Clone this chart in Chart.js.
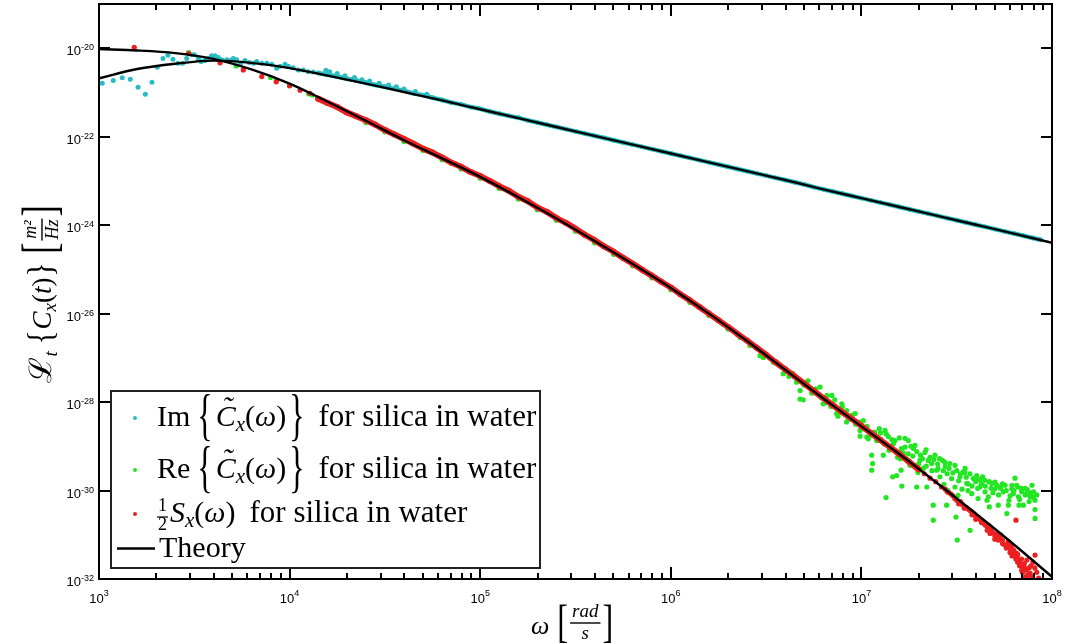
<!DOCTYPE html>
<html>
<head>
<meta charset="utf-8">
<script src="https://cdn.jsdelivr.net/npm/chart.js@4/dist/chart.umd.min.js"></script>
<style>
  html, body { margin: 0; padding: 0; background: #fff; }
  canvas { display: block; }
</style>
</head>
<body>
<canvas id="c" width="1068" height="644"></canvas>
<script>
// ---- axis ranges and tick decades ----
const omegaRange = [1e3, 1e8];
const psdRange = [1e-32, 1e-19];
const xTickExponents = [3, 4, 5, 6, 7, 8];
const yTickExponents = [-20, -22, -24, -26, -28, -30, -32];

// ---- theory curves: log10(omega) and log10(value) ----
const theoryLogW  = [3.0, 3.2, 3.4, 3.6, 3.8, 4.0, 4.2, 4.4, 4.6, 4.8, 5.0, 5.2, 5.4, 5.6, 5.8, 6.0, 6.2, 6.4, 6.6, 6.8, 7.0, 7.2, 7.4, 7.6, 7.8, 8.0];
const theoryReLog = [-20.02, -20.05, -20.11, -20.24, -20.48, -20.80, -21.21, -21.64, -22.08, -22.49, -22.91, -23.37, -23.85, -24.36, -24.88, -25.42, -26.00, -26.62, -27.27, -27.92, -28.55, -29.18, -29.84, -30.52, -31.22, -31.95];
const theoryImLog = [-20.68, -20.47, -20.35, -20.28, -20.33, -20.45, -20.62, -20.80, -20.99, -21.18, -21.38, -21.58, -21.78, -21.98, -22.18, -22.38, -22.58, -22.78, -22.98, -23.19, -23.39, -23.59, -23.79, -23.99, -24.19, -24.40];

// ---- Im{C~x(w)} measurements, [log10 w, log10 value] ----
const imDots = [
  [3.017,-20.79],[3.075,-20.73],[3.122,-20.67],[3.164,-20.70],[3.205,-20.88],[3.243,-21.04],[3.278,-20.77],[3.306,-20.43],
  [3.336,-20.23],[3.362,-20.16],[3.388,-20.25],[3.414,-20.34],[3.439,-20.34],[3.460,-20.23],[3.486,-20.15],[3.500,-20.15],
  [3.521,-20.23],[3.535,-20.30],[3.556,-20.28],[3.573,-20.23],[3.591,-20.17],[3.609,-20.17],[3.626,-20.21],[3.644,-20.26],
  [3.670,-20.26],[3.687,-20.28],[3.705,-20.23],[3.722,-20.26],[3.743,-20.34],[3.766,-20.28],[3.789,-20.32],[3.810,-20.34],
  [3.827,-20.30],[3.854,-20.34],[3.880,-20.34],[3.906,-20.36],[3.932,-20.45],[3.950,-20.41],[3.976,-20.36],[3.993,-20.41],
  [4.019,-20.44],[4.046,-20.49],[4.072,-20.49],[4.098,-20.53],[4.124,-20.54],[4.19,-20.50],[4.21,-20.53],[4.25,-20.57],
  [4.29,-20.62],[4.34,-20.66],[4.38,-20.71],[4.42,-20.74],[4.47,-20.79],[4.52,-20.83],[4.56,-20.87],[4.60,-20.92],
  [4.66,-20.98],[4.72,-21.04]
];
const imBand = [
  [4.15,-20.56],[4.20,-20.60],[4.25,-20.64],[4.30,-20.69],[4.35,-20.73],[4.40,-20.78],[4.45,-20.83],[4.50,-20.87],
  [4.55,-20.92],[4.60,-20.96],[4.65,-21.02],[4.70,-21.06],[4.75,-21.12],[4.80,-21.17],[4.85,-21.23],[4.90,-21.27],
  [4.95,-21.33],[5.00,-21.37],[5.05,-21.43],[5.10,-21.48],[5.15,-21.53],[5.20,-21.57],[5.25,-21.63],[5.30,-21.68],
  [5.35,-21.73],[5.40,-21.78],[5.45,-21.83],[5.50,-21.88],[5.55,-21.93],[5.60,-21.98],[5.65,-22.03],[5.70,-22.08],
  [5.75,-22.13],[5.80,-22.18],[5.85,-22.23],[5.90,-22.28],[5.95,-22.33],[6.00,-22.38],[6.05,-22.43],[6.10,-22.48],
  [6.15,-22.53],[6.20,-22.58],[6.25,-22.63],[6.30,-22.68],[6.35,-22.73],[6.40,-22.78],[6.45,-22.83],[6.50,-22.88],
  [6.55,-22.93],[6.60,-22.98],[6.65,-23.03],[6.70,-23.08],[6.75,-23.14],[6.80,-23.19],[6.85,-23.24],[6.90,-23.29],
  [6.95,-23.34],[7.00,-23.39],[7.05,-23.44],[7.10,-23.49],[7.15,-23.54],[7.20,-23.59],[7.25,-23.64],[7.30,-23.69],
  [7.35,-23.74],[7.40,-23.79],[7.45,-23.84],[7.50,-23.89],[7.55,-23.94],[7.60,-23.99],[7.65,-24.04],[7.70,-24.09],
  [7.75,-24.14],[7.80,-24.19],[7.85,-24.24],[7.90,-24.29],[7.94,-24.33]
];

// ---- Re{C~x(w)} measurements ----
const reDots = [
  [3.47,-20.10],[3.72,-20.40],[3.93,-20.73],[4.12,-21.06],
  [3.9,-20.66],[4.0,-20.84],[4.1,-21.03],[4.2,-21.25],[4.3,-21.46],[4.4,-21.68],[4.5,-21.89],[4.6,-22.11],[4.7,-22.31],
  [4.8,-22.52],[4.9,-22.73],[5.0,-22.94],[5.1,-23.17],[5.2,-23.41],[5.3,-23.65],[5.4,-23.89],[5.5,-24.14],[5.6,-24.40],
  [5.7,-24.66],[5.8,-24.92],[5.9,-25.19],[6.0,-25.46],[6.1,-25.75],[6.2,-26.04],[6.275,-26.24],[6.3,-26.35],[6.363,-26.54],
  [6.415,-26.72],[6.468,-26.95],[6.485,-26.99],[6.538,-27.10],[6.590,-27.36],[6.678,-27.74],[6.678,-27.93],
  [6.60,-27.30],[6.62,-27.42],[6.64,-27.35],[6.66,-27.55],[6.70,-27.62],[6.72,-27.52],[6.74,-27.80],[6.76,-27.70],
  [6.79,-27.90],[6.82,-27.85],[6.84,-28.10],[6.86,-27.95],[6.88,-28.20],[6.90,-28.10],[6.93,-28.35],[6.95,-28.30],
  [6.97,-28.50],[6.99,-28.45],[7.01,-28.60],[7.03,-28.55],[7.05,-28.75],[7.07,-28.68],
  [6.695,-27.95],[6.741,-27.78],[6.783,-27.66],[6.800,-28.04],[6.814,-28.01],[6.845,-27.85],[6.870,-28.26],[6.877,-28.32],
  [6.897,-28.04],[6.922,-28.45],[6.923,-28.19],[6.940,-28.38],[6.967,-28.26],[6.984,-28.49],[6.993,-28.64],[6.993,-28.77],
  [7.010,-28.42],[7.028,-28.79],[7.036,-28.83],[7.054,-29.20],[7.059,-29.39],[7.054,-29.54],[7.080,-28.87],[7.094,-28.60],
  [7.115,-29.20],[7.124,-28.64],[7.129,-30.16],[7.141,-28.78],[7.145,-29.09],[7.164,-29.69],[7.168,-28.94],[7.176,-28.87],
  [7.185,-29.66],[7.199,-28.81],[7.203,-29.28],[7.208,-29.54],[7.212,-29.90],[7.229,-29.02],[7.229,-28.82],[7.246,-28.87],
  [7.246,-29.17],[7.255,-29.43],[7.273,-29.05],[7.281,-28.98],[7.290,-29.92],[7.297,-29.59],[7.307,-29.32],[7.325,-29.50],
  [7.333,-29.14],[7.339,-29.08],[7.343,-29.92],[7.351,-29.32],[7.369,-29.39],[7.377,-30.33],[7.377,-30.67],[7.386,-29.20],
  [7.395,-29.54],[7.402,-29.50],[7.412,-29.69],[7.426,-29.32],[7.433,-29.86],[7.438,-29.36],[7.447,-30.33],[7.454,-30.00],
  [7.464,-29.39],[7.473,-29.73],[7.491,-29.92],[7.491,-29.43],[7.496,-30.60],[7.503,-31.12],[7.507,-30.11],[7.517,-29.69],
  [7.528,-29.97],[7.535,-29.58],[7.543,-29.59],[7.544,-29.50],[7.553,-29.84],[7.559,-30.00],[7.570,-30.90],[7.579,-30.07],
  [7.587,-29.73],[7.596,-29.72],[7.605,-29.66],[7.612,-30.18],[7.622,-29.92],[7.636,-29.69],[7.648,-29.77],[7.649,-30.03],
  [7.659,-30.22],[7.666,-30.14],[7.671,-30.37],[7.684,-29.84],[7.701,-29.96],[7.701,-29.81],[7.718,-30.33],[7.727,-29.92],
  [7.745,-30.03],[7.754,-29.88],[7.763,-30.52],[7.771,-30.33],[7.774,-30.22],[7.789,-29.96],[7.797,-30.07],[7.806,-29.72],
  [7.815,-29.88],[7.824,-30.14],[7.827,-30.33],[7.841,-30.03],[7.850,-30.33],[7.859,-29.95],[7.868,-30.07],[7.885,-30.14],
  [7.895,-29.88],[7.903,-30.03],[7.911,-30.22],[7.911,-30.63],[7.911,-30.43],
  [7.10,-28.70],[7.12,-28.95],[7.13,-28.72],[7.15,-29.00],[7.16,-28.85],[7.18,-29.10],[7.19,-29.25],[7.21,-29.05],
  [7.22,-29.15],[7.24,-29.30],[7.26,-29.00],[7.27,-29.22],[7.29,-29.12],[7.30,-29.40],[7.31,-29.20],[7.32,-29.28],
  [7.34,-29.45],[7.36,-29.25],[7.37,-29.55],[7.38,-29.30],[7.40,-29.40],[7.41,-29.28],[7.43,-29.55],[7.44,-29.45],
  [7.45,-29.62],[7.46,-29.50],[7.48,-29.60],[7.50,-29.55],[7.51,-29.78],[7.52,-29.62],[7.55,-29.70],[7.56,-29.85],
  [7.57,-29.62],[7.58,-29.90],[7.60,-29.80],[7.61,-29.95],[7.62,-29.75],[7.63,-29.85],[7.65,-29.90],[7.67,-29.80],
  [7.68,-29.95],[7.69,-30.05],[7.71,-29.88],[7.72,-30.10],[7.73,-29.95],[7.74,-29.85],[7.76,-30.00],[7.78,-30.12],
  [7.79,-29.88],[7.80,-30.00],[7.82,-29.92],[7.83,-30.20],[7.84,-29.95],[7.86,-30.10],[7.87,-29.98],[7.88,-30.25],
  [7.89,-30.05],[7.90,-30.15],[7.92,-30.10]
];

// ---- (1/2) Sx(w) measurements ----
const psdDots = [
  [3.185,-19.98],[3.47,-20.12],[3.635,-20.33],[3.757,-20.49],[3.854,-20.64],[3.93,-20.76],[4.00,-20.85],[4.055,-20.95],
  [4.107,-21.02],
  [7.33,-29.62],[7.36,-29.72],[7.39,-29.80],[7.42,-29.92],[7.44,-29.97],[7.46,-30.05],[7.47,-30.08],[7.48,-30.12],
  [7.50,-30.22],[7.52,-30.25],[7.53,-30.32],[7.55,-30.38],[7.57,-30.45],[7.58,-30.48],[7.59,-30.52],[7.60,-30.58],
  [7.61,-30.60],[7.62,-30.65],[7.64,-30.74],[7.65,-30.78],[7.66,-30.82],[7.675,-30.97],[7.68,-30.88],[7.69,-30.95],
  [7.70,-31.02],[7.71,-30.98],[7.718,-31.12],[7.727,-31.05],[7.73,-31.00],[7.74,-31.20],[7.75,-31.22],[7.763,-31.27],
  [7.77,-31.15],[7.78,-31.31],[7.789,-31.38],[7.79,-31.25],[7.80,-31.45],[7.80,-31.35],[7.811,-30.67],[7.815,-31.42],
  [7.815,-31.50],[7.82,-31.62],[7.83,-31.58],[7.832,-31.65],[7.84,-31.55],[7.841,-31.80],[7.85,-31.72],[7.859,-31.76],
  [7.86,-31.95],[7.868,-31.57],[7.87,-32.05],[7.876,-31.91],[7.885,-31.87],[7.885,-32.02],[7.89,-31.70],[7.90,-31.62],
  [7.911,-31.46],[7.92,-31.85],[7.93,-31.98],
  [7.45,-30.03],[7.49,-30.18],[7.51,-30.30],[7.54,-30.40],[7.56,-30.42],[7.58,-30.55],[7.60,-30.65],[7.63,-30.72],
  [7.66,-30.90],[7.67,-30.80],[7.70,-31.10],[7.72,-31.05],[7.74,-31.12],[7.76,-31.30],[7.77,-31.22],[7.78,-31.40],
  [7.79,-31.48],[7.81,-31.55],[7.82,-31.45],[7.83,-31.70],[7.845,-31.85],[7.855,-31.65],[7.865,-31.80],[7.87,-31.92],
  [7.88,-31.75],[7.895,-31.95],[7.90,-32.10],[7.91,-31.75]
];
const psdBand = [
  [4.15,-21.14],[4.20,-21.24],[4.25,-21.33],[4.30,-21.45],[4.35,-21.54],[4.40,-21.63],[4.45,-21.73],[4.50,-21.85],
  [4.55,-21.95],[4.60,-22.05],[4.65,-22.16],[4.70,-22.27],[4.75,-22.36],[4.80,-22.47],[4.85,-22.59],[4.90,-22.68],
  [4.95,-22.80],[5.00,-22.89],[5.05,-23.00],[5.10,-23.12],[5.15,-23.22],[5.20,-23.36],[5.25,-23.46],[5.30,-23.60],
  [5.35,-23.70],[5.40,-23.84],[5.45,-23.95],[5.50,-24.08],[5.55,-24.22],[5.60,-24.34],[5.65,-24.48],[5.70,-24.60],
  [5.75,-24.74],[5.80,-24.87],[5.85,-25.01],[5.90,-25.14],[5.95,-25.28],[6.00,-25.41],[6.05,-25.56],[6.10,-25.70],
  [6.15,-25.85],[6.20,-26.00],[6.25,-26.15],[6.30,-26.30],[6.35,-26.46],[6.40,-26.61],[6.45,-26.77],[6.50,-26.93],
  [6.55,-27.10],[6.60,-27.26],[6.65,-27.42],[6.70,-27.58],[6.75,-27.75],[6.80,-27.91],[6.85,-28.07],[6.90,-28.23],
  [6.95,-28.38],[7.00,-28.54],[7.05,-28.70],[7.10,-28.86],[7.15,-29.02],[7.20,-29.18],[7.25,-29.35],[7.30,-29.52]
];

// ---- colours ----
const cyan = 'rgb(40,188,194)';
const green = 'rgb(34,230,34)';
const red = 'rgb(236,32,32)';

const fromLog = pairs => pairs.map(([w, c]) => ({ x: 10 ** w, y: 10 ** c }));
const theoryRe = theoryLogW.map((w, i) => ({ x: 10 ** w, y: 10 ** theoryReLog[i] }));
const theoryIm = theoryLogW.map((w, i) => ({ x: 10 ** w, y: 10 ** theoryImLog[i] }));

const dotStyle = (color, order, r = 2.5) => ({
  showLine: false, pointRadius: r, pointBorderWidth: 0,
  pointBackgroundColor: color, backgroundColor: color, borderColor: color, order
});
const bandStyle = (color, width, order, r) => ({
  showLine: true, borderColor: color, borderWidth: width, borderCapStyle: 'round', borderJoinStyle: 'round',
  pointRadius: r, pointBorderWidth: 0, pointBackgroundColor: color, backgroundColor: color, order
});
const theoryStyle = {
  showLine: true, borderColor: '#000', borderWidth: 2.4, pointRadius: 0,
  cubicInterpolationMode: 'monotone', order: 0
};

const serif = '"Liberation Serif", "Times New Roman", serif';
const sans = '"Liberation Sans", Arial, Helvetica, sans-serif';
const font = (style, size, fam = serif) => `${style} ${size}px ${fam}`;

// draws a run of text pieces left to right, returns the end x
function drawRuns(ctx, runs, x0, y0) {
  let x = x0;
  for (const r of runs) {
    if (r.gap !== undefined) { x += r.gap; continue; }
    if (r.frac) {
      ctx.save();
      ctx.font = r.font;
      const wn = ctx.measureText(r.frac[0]).width, wd = ctx.measureText(r.frac[1]).width;
      const w = Math.max(wn, wd) + 2 * (r.pad || 1);
      ctx.textAlign = 'center';
      ctx.fillText(r.frac[0], x + w / 2, y0 + r.numDy);
      ctx.fillText(r.frac[1], x + w / 2, y0 + r.denDy);
      ctx.fillRect(x, y0 + r.barDy - (r.bar || 1.2) / 2, w, r.bar || 1.2);
      ctx.restore();
      x += w;
      continue;
    }
    ctx.save();
    ctx.font = r.font;
    const sx = r.sx || 1, sy = r.sy || 1;
    const w = ctx.measureText(r.t).width * sx;
    ctx.translate(x, y0 + (r.dy || 0));
    ctx.scale(sx, sy);
    ctx.fillText(r.t, 0, 0);
    ctx.restore();
    if (r.tilde) {
      ctx.save();
      ctx.font = r.font;
      ctx.textAlign = 'center';
      ctx.fillText('\u02DC', x + w * 0.58, y0 + (r.dy || 0) - r.tilde);
      ctx.restore();
    }
    x += w + (r.after || 0);
  }
  return x;
}

function runsWidth(ctx, runs) {
  ctx.save();
  ctx.globalAlpha = 0;
  const w = drawRuns(ctx, runs, 0, -1000);
  ctx.restore();
  return w;
}

const frameAndLabels = {
  id: 'frameAndLabels',
  afterDraw(chart) {
    const { ctx, chartArea: a, scales } = chart;
    const xs = scales.x, ys = scales.y;
    ctx.save();
    ctx.fillStyle = '#000';
    ctx.strokeStyle = '#000';

    // inward ticks on all four sides
    ctx.lineWidth = 2;
    ctx.beginPath();
    for (let e = xTickExponents[0]; e < xTickExponents[xTickExponents.length - 1]; e++) {
      for (let k = 1; k <= 9; k++) {
        const px = Math.round(xs.getPixelForValue(k * 10 ** e));
        const len = k === 1 ? 12 : 6;
        ctx.moveTo(px, a.bottom); ctx.lineTo(px, a.bottom - len);
        ctx.moveTo(px, a.top); ctx.lineTo(px, a.top + len);
      }
    }
    for (const e of yTickExponents) {
      const py = Math.round(ys.getPixelForValue(10 ** e));
      ctx.moveTo(a.left, py); ctx.lineTo(a.left + 11, py);
      ctx.moveTo(a.right, py); ctx.lineTo(a.right - 11, py);
    }
    ctx.stroke();

    // frame
    ctx.lineWidth = 2;
    ctx.strokeRect(a.left, a.top, a.right - a.left, a.bottom - a.top);

    // tick labels
    ctx.textBaseline = 'alphabetic';
    for (const e of xTickExponents) {
      const px = xs.getPixelForValue(10 ** e);
      ctx.font = font('normal', 13, sans);
      const wb = ctx.measureText('10').width;
      ctx.font = font('normal', 9, sans);
      const we = ctx.measureText(String(e)).width;
      const x0 = px - (wb + we) / 2;
      ctx.font = font('normal', 13, sans);
      ctx.fillText('10', x0, a.bottom + 24);
      ctx.font = font('normal', 9, sans);
      ctx.fillText(String(e), x0 + wb, a.bottom + 17);
    }
    for (const e of yTickExponents) {
      const py = ys.getPixelForValue(10 ** e);
      ctx.font = font('normal', 9, sans);
      const lab = String(e);
      const we = ctx.measureText(lab).width;
      const xr = a.left - 5;
      ctx.fillText(lab, xr - we, py + 2);
      ctx.font = font('normal', 13, sans);
      const wb = ctx.measureText('10').width;
      ctx.fillText('10', xr - we - wb, py + 7);
    }

    // x axis title: omega [rad / s]
    drawRuns(ctx, [
      { t: '\u03C9', font: font('italic', 26) },
      { gap: 8 },
      { t: '[', font: font('normal', 46), sx: 0.7, dy: 3 },
      { gap: 2 },
      { frac: ['rad', 's'], font: font('italic', 19), numDy: -17, denDy: 5, barDy: -11, pad: 2, bar: 1.4 },
      { gap: 2 },
      { t: ']', font: font('normal', 46), sx: 0.7, dy: 3 }
    ], 531, 634);

    // y axis title, rotated
    const yRuns = [
      { t: '\u2112', font: font('normal', 31, '"DejaVu Serif", serif') },
      { t: 't', font: font('italic', 19), dy: 6 },
      { gap: 7 },
      { t: '{', font: font('normal', 36), sx: 0.8, dy: 1 },
      { gap: 1 },
      { t: 'C', font: font('italic', 27) },
      { t: 'x', font: font('italic', 19), dy: 5 },
      { t: '(', font: font('normal', 27) },
      { t: 't', font: font('italic', 27) },
      { t: ')', font: font('normal', 27) },
      { gap: 1 },
      { t: '}', font: font('normal', 36), sx: 0.8, dy: 1 },
      { gap: 9 },
      { t: '[', font: font('normal', 48), sx: 0.7, dy: 4 },
      { gap: 2 },
      { frac: ['m\u00B2', 'Hz'], font: font('italic', 18), numDy: -15, denDy: 7, barDy: -9, pad: 1, bar: 1.4 },
      { gap: 2 },
      { t: ']', font: font('normal', 48), sx: 0.7, dy: 4 }
    ];
    const yLen = runsWidth(ctx, yRuns);
    ctx.save();
    ctx.translate(51, 294 + yLen / 2);
    ctx.rotate(-Math.PI / 2);
    drawRuns(ctx, yRuns, 0, 0);
    ctx.restore();

    // legend box
    const lb = { l: 111, t: 391, r: 540, b: 568 };
    ctx.fillStyle = '#fff';
    ctx.fillRect(lb.l, lb.t, lb.r - lb.l, lb.b - lb.t);
    ctx.strokeStyle = '#222';
    ctx.lineWidth = 2;
    ctx.strokeRect(lb.l, lb.t, lb.r - lb.l, lb.b - lb.t);
    ctx.fillStyle = '#000';

    const brace = (t) => ({ t, font: font('normal', 58), sx: 0.55, dy: 8 });
    const ctilde = [
      brace('{'), { gap: 3 },
      { t: 'C', font: font('italic', 30), tilde: 9 },
      { t: 'x', font: font('italic', 21), dy: 5 },
      { t: '(', font: font('normal', 30) },
      { t: '\u03C9', font: font('italic', 30) },
      { t: ')', font: font('normal', 30) },
      { gap: 3 }, brace('}')
    ];
    const entries = [
      { color: cyan, y: 426, runs: [{ t: 'Im', font: font('normal', 30) }, { gap: 7 }, ...ctilde] },
      { color: green, y: 478, runs: [{ t: 'Re', font: font('normal', 30) }, { gap: 7 }, ...ctilde] },
      { color: red, y: 522, runs: [
        { frac: ['1', '2'], font: font('normal', 18), numDy: -11, denDy: 8, barDy: -5, pad: 1, bar: 1.2 },
        { gap: 2 },
        { t: 'S', font: font('italic', 30) },
        { t: 'x', font: font('italic', 21), dy: 5 },
        { t: '(', font: font('normal', 30) },
        { t: '\u03C9', font: font('italic', 30) },
        { t: ')', font: font('normal', 30) }
      ] }
    ];
    for (const en of entries) {
      ctx.fillStyle = en.color;
      ctx.beginPath();
      ctx.arc(135, en.y - 8, 2, 0, Math.PI * 2);
      ctx.fill();
      ctx.fillStyle = '#000';
      const end = drawRuns(ctx, en.runs, 157, en.y);
      ctx.font = font('normal', 31);
      ctx.fillText('for silica in water', end + 14, en.y);
    }
    ctx.lineWidth = 2.4;
    ctx.strokeStyle = '#000';
    ctx.beginPath();
    ctx.moveTo(117, 548.5); ctx.lineTo(155, 548.5);
    ctx.stroke();
    ctx.font = font('normal', 30);
    ctx.fillText('Theory', 159, 557);

    ctx.restore();
  }
};

new Chart(document.getElementById('c'), {
  type: 'scatter',
  data: {
    datasets: [
      { label: 'Theory Re', data: theoryRe, ...theoryStyle },
      { label: 'Theory Im', data: theoryIm, ...theoryStyle },
      { label: '1/2 Sx band', data: fromLog(psdBand), ...bandStyle(red, 6, 1, 3) },
      { label: '1/2 Sx', data: fromLog(psdDots), ...dotStyle(red, 1, 2.6) },
      { label: 'Re Cx', data: fromLog(reDots), ...dotStyle(green, 2, 2.6) },
      { label: 'Im Cx band', data: fromLog(imBand), ...bandStyle(cyan, 4.5, 3, 2.4) },
      { label: 'Im Cx', data: fromLog(imDots), ...dotStyle(cyan, 3, 2.5) }
    ]
  },
  options: {
    responsive: false,
    animation: false,
    devicePixelRatio: 1,
    layout: { padding: { left: 99, top: 2, right: 16, bottom: 65 } },
    scales: {
      x: { type: 'logarithmic', min: omegaRange[0], max: omegaRange[1], display: false },
      y: { type: 'logarithmic', min: psdRange[0], max: psdRange[1], display: false }
    },
    plugins: { legend: { display: false }, tooltip: { enabled: false } }
  },
  plugins: [frameAndLabels]
});
</script>
</body>
</html>
